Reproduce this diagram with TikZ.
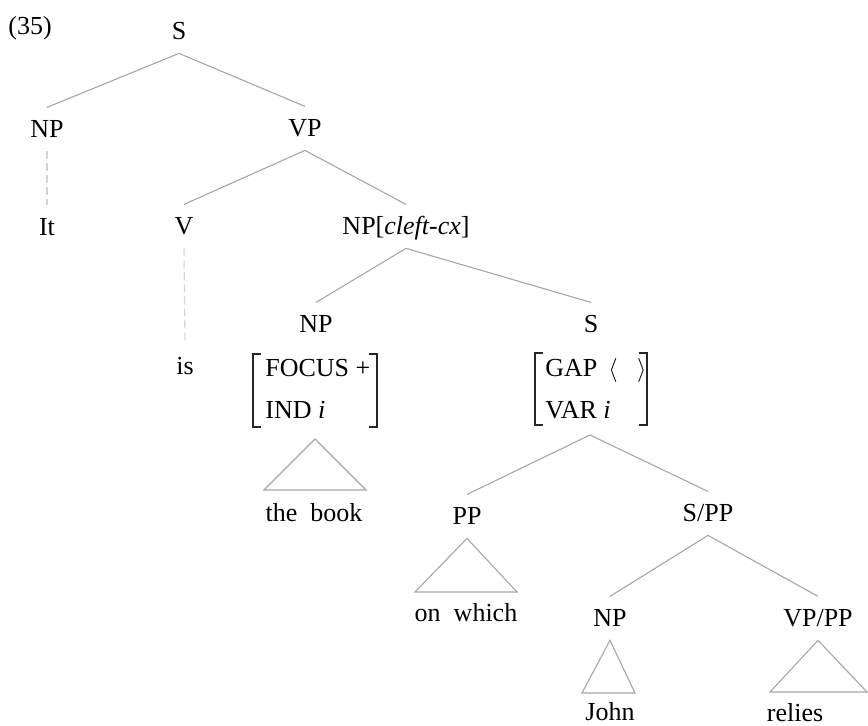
\documentclass[tikz,border=0pt]{standalone}
\usepackage{fontspec}
\setmainfont{Liberation Serif}
\begin{document}
\begin{tikzpicture}[x=0.5pt,y=-0.5pt,
  lab/.style={font=\fontsize{13}{15}\selectfont, inner xsep=0pt, inner ysep=6.5pt, text height=8.6pt, text depth=0pt, anchor=base},
  plain/.style={font=\fontsize{13}{15}\selectfont, inner sep=0pt},
  edge/.style={draw=gray!70, line width=0.55pt},
  faint/.style={draw=gray!35, line width=0.55pt, dash pattern=on 4pt off 2pt},
  tri/.style={draw=gray!70, line width=0.55pt, line join=miter},
  brack/.style={draw=black!85, line width=0.6pt}]
\useasboundingbox (0,0) rectangle (868,726);

\node[plain, anchor=base west] (ex) at (8,35) {(35)};

% tree labels
\node[lab] (S0) at (179,40) {S};
\node[lab] (NP1) at (47,138) {NP};
\node[lab] (VP1) at (305,137) {VP};
\node[lab] (It) at (47,236) {It};
\node[lab] (V) at (184,235) {V};
\node[lab] (NPc) at (406,235) {NP[\textit{cleft-cx}]};
\node[lab] (NP2) at (316,333) {NP};
\node[lab] (S2) at (591,333) {S};
\node[lab] (is) at (185,375) {is};

% feature matrices
\node[plain, anchor=base west] (focus) at (265,377) {FOCUS +};
\node[plain, anchor=base west] (ind) at (265,419) {IND \textit{i}};
\node[plain, anchor=base west] (gap) at (545,377) {GAP\ \,$\langle\hspace{0.75em}\rangle$};
\node[plain, anchor=base west] (var) at (545,419) {VAR \textit{i}};
\draw[brack] (261,354) -- (253,354) -- (253,427) -- (261,427);
\draw[brack] (369,354) -- (377,354) -- (377,427) -- (369,427);
\draw[brack] (543,353) -- (535,353) -- (535,425) -- (543,425);
\draw[brack] (639,353) -- (647,353) -- (647,425) -- (639,425);
\coordinate (NPmat) at (315,439);
\coordinate (Smat) at (590,435);

\node[lab] (book) at (314,522) {the\ \ book};
\node[lab] (PP) at (467,525) {PP};
\node[lab] (SPP) at (708,522) {S/PP};
\node[lab] (which) at (466,622) {on\ \ which};
\node[lab] (NP3) at (610,627) {NP};
\node[lab] (VPPP) at (818,627) {VP/PP};
\node[plain, anchor=base] (John) at (610,721) {John};
\node[plain, anchor=base] (relies) at (795,722) {relies};

% connectors
\draw[edge] (S0.south) -- (NP1.north);
\draw[edge] (S0.south) -- (VP1.north);
\draw[faint] (NP1.south) -- (It.north);
\draw[edge] (VP1.south) -- (V.north);
\draw[edge] (VP1.south) -- (NPc.north);
\draw[faint] (V.south) -- (is.north);
\draw[edge] (NPc.south) -- (NP2.north);
\draw[edge] (NPc.south) -- (S2.north);
\draw[edge] (Smat) -- (PP.north);
\draw[edge] (Smat) -- (SPP.north);
\draw[edge] (SPP.south) -- (NP3.north);
\draw[edge] (SPP.south) -- (VPPP.north);

% triangles
\draw[tri] (NPmat) -- (264,490) -- (366,490) -- cycle;
\draw[tri] (PP.south) -- (415,592) -- (517,592) -- cycle;
\draw[tri] (NP3.south) -- (582,693) -- (635,693) -- cycle;
\draw[tri] (VPPP.south) -- (770,692) -- (867,692) -- cycle;
\end{tikzpicture}
\end{document}
